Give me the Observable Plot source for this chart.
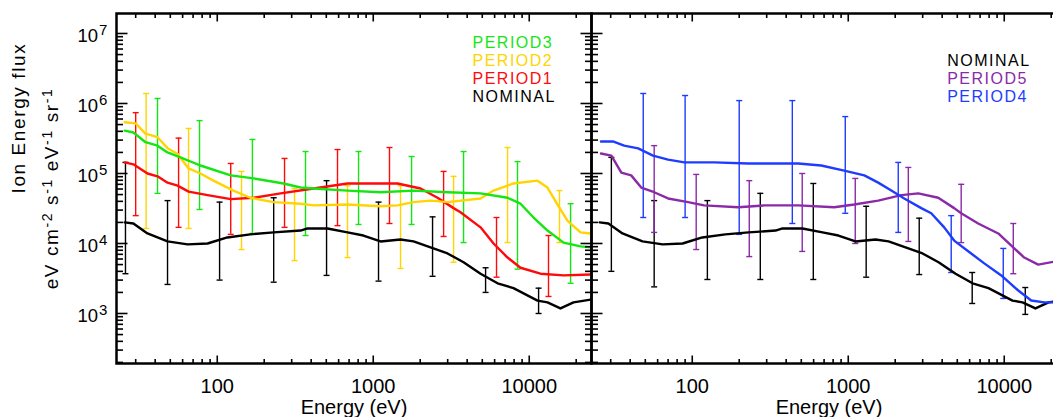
<!DOCTYPE html>
<html><head><meta charset="utf-8">
<script src="https://cdn.jsdelivr.net/npm/d3@7"></script>
<script src="https://cdn.jsdelivr.net/npm/@observablehq/plot@0.6"></script>
<style>
html,body{margin:0;padding:0;background:#fff;}
#chart{position:relative;width:1053px;height:417px;overflow:hidden;background:#fff;}
#chart svg{position:absolute;top:0;}
</style></head><body><div id="chart"></div>
<script>
// ---------- data (energy in eV, flux in eV cm^-2 s^-1 eV^-1 sr^-1) ----------
const nominalE = [25.5, 29, 35.7, 48, 64.5, 86.7, 116, 163, 230, 342, 379, 509, 684, 865, 1113, 1496, 1812, 2330, 2994, 3793, 4875, 6266, 7925, 11300, 13090, 15850, 19230, 24720];
const nominalF = [2.0e4, 1.93e4, 1.39e4, 1.07e4, 9.7e3, 1.0e4, 1.22e4, 1.35e4, 1.44e4, 1.53e4, 1.64e4, 1.64e4, 1.44e4, 1.3e4, 1.07e4, 1.14e4, 1.07e4, 8.8e3, 7.2e3, 5.4e3, 3.7e3, 2.7e3, 2.3e3, 1.53e3, 1.44e3, 1.18e3, 1.44e3, 1.58e3];

const period1E = [25.5, 29, 35.7, 41.4, 48, 55.7, 65.5, 86.7, 122, 171, 255, 414, 684, 865, 1432, 2011, 2583, 3273, 3624, 4875, 5905, 7260, 8790, 11810, 16600, 24720];
const period1F = [1.44e5, 1.35e5, 1.0e5, 9.1e4, 7.4e4, 6.7e4, 5.5e4, 4.9e4, 4.3e4, 4.5e4, 5.2e4, 6.1e4, 7.2e4, 7.2e4, 7.2e4, 6.1e4, 4.5e4, 3.2e4, 2.8e4, 1.7e4, 1.0e4, 6.3e3, 4.5e3, 3.7e3, 3.5e3, 3.6e3];

const period2E = [25.5, 30, 34.7, 41.4, 48, 55.7, 65.5, 78, 94.6, 127, 163, 230, 342, 414, 684, 1113, 1432, 1812, 2330, 2994, 4875, 5905, 7925, 11300, 13090, 15180, 17620, 21330, 24720];
const period2F = [5.4e5, 5.2e5, 3.7e5, 3.3e5, 2.3e5, 1.9e5, 1.18e5, 1.0e5, 7.9e4, 5.7e4, 4.5e4, 3.9e4, 3.7e4, 3.5e4, 3.6e4, 3.4e4, 3.5e4, 3.9e4, 4.1e4, 3.9e4, 4.4e4, 5.7e4, 7.2e4, 7.9e4, 6.3e4, 3.6e4, 2.1e4, 1.44e4, 1.39e4];

const period3E = [25.5, 29, 34.7, 41.4, 48, 58, 78, 122, 171, 266, 342, 414, 684, 1113, 1812, 2994, 4875, 7260, 8790, 10660, 13090, 16600, 21330, 24720];
const period3F = [4.1e5, 3.85e5, 2.8e5, 2.5e5, 2.0e5, 1.7e5, 1.3e5, 9.4e4, 8.5e4, 7.2e4, 6.3e4, 6.1e4, 5.7e4, 5.4e4, 5.7e4, 5.4e4, 5.2e4, 4.5e4, 3.7e4, 2.35e4, 1.53e4, 1.03e4, 9.1e3, 8.8e3];

const period4E = [26, 31, 36.6, 45, 56, 70, 89, 138, 229, 372, 478, 671, 942, 1268, 1556, 1888, 2286, 2938, 3404, 4122, 4775, 6138, 7447, 9571, 12300, 14900, 18030, 20940, 24700];
const period4F = [2.87e5, 2.87e5, 2.5e5, 2.28e5, 1.8e5, 1.58e5, 1.44e5, 1.44e5, 1.39e5, 1.39e5, 1.39e5, 1.3e5, 1.1e5, 9.4e4, 7.4e4, 5.7e4, 4.4e4, 3.2e4, 2.7e4, 1.7e4, 1.1e4, 7.2e3, 5.2e3, 3.5e3, 2.13e3, 1.53e3, 1.44e3, 1.44e3, 1.5e3];

const period5E = [26, 30.3, 35.1, 40.6, 47.1, 57, 70, 94, 119, 197, 290, 478, 813, 1092, 1556, 2188, 2812, 3776, 4775, 5297, 6808, 9156, 11600, 13430, 16520, 20940, 24700];
const period5F = [1.93e5, 1.8e5, 1.03e5, 9.4e4, 6.3e4, 5.4e4, 4.4e4, 3.9e4, 3.5e4, 3.3e4, 3.5e4, 3.5e4, 3.3e4, 3.6e4, 4.1e4, 4.9e4, 5.2e4, 4.5e4, 3.2e4, 2.7e4, 1.93e4, 1.39e4, 8.5e3, 6.3e3, 5.0e3, 5.5e3, 5.8e3];

// error bars: energy, low, high
const barNomLeftE  = [25.8, 48, 103.5, 230, 502, 1081, 2400, 5250, 11480];
const barNomLeftLo = [3.7e3, 2.6e3, 3.0e3, 2.8e3, 3.5e3, 2.9e3, 3.4e3, 2.0e3, 1.0e3];
const barNomLeftHi = [1.44e5, 4.1e4, 3.9e4, 4.5e4, 7.9e4, 3.9e4, 2.4e4, 4.5e3, 2.3e3];

const barP1E  = [30, 56.5, 122, 270, 590, 1271, 2825, 6170, 13290];
const barP1Lo = [2.5e4, 1.7e4, 1.35e4, 1.7e4, 1.8e4, 1.93e4, 1.26e4, 3.3e3, 1.75e3];
const barP1Hi = [7.4e5, 3.2e5, 1.39e5, 1.64e5, 2.2e5, 2.35e5, 1.07e5, 2.35e4, 1.3e4];

const barP2E  = [35, 65.5, 143, 313, 684, 1496, 3273, 7260, 15630];
const barP2Lo = [1.64e4, 1.64e4, 8.2e3, 5.7e3, 6.3e3, 4.4e3, 5.4e3, 1.03e4, 1.03e4];
const barP2Hi = [1.39e6, 4.4e5, 1.07e5, 6.1e4, 6.7e4, 6.7e4, 9.1e4, 2.35e5, 5.7e4];

const barP3E  = [41.4, 77, 168, 368, 805, 1761, 3793, 8410, 18410];
const barP3Lo = [5.2e4, 3.06e4, 1.39e4, 1.3e4, 1.87e4, 1.87e4, 1.03e4, 4.3e3, 2.7e3];
const barP3Hi = [1.18e6, 5.7e5, 3.06e5, 2.06e5, 2.06e5, 1.75e5, 2.06e5, 1.48e5, 3.7e4];

const barNomRightE  = [30.3, 57, 125, 273, 597, 1303, 2851, 6232, 13640];
const barNomRightLo = [4.0e3, 2.4e3, 3.06e3, 3.06e3, 3.06e3, 3.3e3, 3.6e3, 1.39e3, 970];
const barNomRightHi = [1.7e5, 4.1e4, 4.1e4, 5.2e4, 7.2e4, 3.4e4, 2.3e4, 3.85e3, 2.35e3];

const barP4E  = [48.5, 90, 200, 438, 957, 2092, 4571, 9857];
const barP4Lo = [2.35e4, 2.35e4, 1.35e4, 1.93e4, 2.7e4, 1.44e4, 3.85e3, 1.64e3];
const barP4Hi = [1.39e6, 1.3e6, 1.1e6, 1.1e6, 6.5e5, 1.44e5, 2.5e4, 8.5e3];

const barP5E  = [57, 106, 232, 507, 1109, 2427, 5297, 11430];
const barP5Lo = [1.44e4, 8.2e3, 6.5e3, 7.7e3, 1.0e4, 1.07e4, 1.03e4, 3.7e3];
const barP5Hi = [2.5e5, 9.7e4, 7.9e4, 1.0e5, 8.5e4, 1.22e5, 7.0e4, 1.93e4];

// axes
const xDomain = [22.6, 25070];
const yDomain = [193, 1.93e7];
const xMajor = [100, 1000, 10000];
const xMajorLabels = ["100", "1000", "10000"];
const xMinor = [30, 40, 50, 60, 70, 80, 90, 200, 300, 400, 500, 600, 700, 800, 900, 2000, 3000, 4000, 5000, 6000, 7000, 8000, 9000, 20000];
const yMajor = [1e3, 1e4, 1e5, 1e6, 1e7];
const yMajorBase = "10";
const yMajorExp = ["3", "4", "5", "6", "7"];
const yMinor = [200, 300, 400, 500, 600, 700, 800, 900, 2e3, 3e3, 4e3, 5e3, 6e3, 7e3, 8e3, 9e3, 2e4, 3e4, 4e4, 5e4, 6e4, 7e4, 8e4, 9e4, 2e5, 3e5, 4e5, 5e5, 6e5, 7e5, 8e5, 9e5, 2e6, 3e6, 4e6, 5e6, 6e6, 7e6, 8e6, 9e6];
const xTitle = "Energy (eV)";
const yTitle1 = "Ion Energy flux";
const yTitle2Parts = [["eV cm", "-2"], [" s", "-1"], [" eV", "-1"], [" sr", "-1"]];
const leftLegend = ["PERIOD3", "PERIOD2", "PERIOD1", "NOMINAL"];
const rightLegend = ["NOMINAL", "PERIOD5", "PERIOD4"];

// ---------- styling ----------
const C = {NOMINAL: "#000000", PERIOD1: "#ff0a0a", PERIOD2: "#ffd400", PERIOD3: "#14e614", PERIOD4: "#1e3cff", PERIOD5: "#8a2aa8"};
const FONT = "'Liberation Sans', Arial, sans-serif";

const rows = (E, F) => E.map((e, i) => ({e, f: F[i]}));
const bars = (E, L, H) => E.map((e, i) => ({e, lo: L[i], hi: H[i]}));
const seg = (x1, y1, x2, y2) => ({draw(ctx) { ctx.moveTo(x1, y1); ctx.lineTo(x2, y2); }});
const cap = seg(-3, 0, 3, 0);

function errMarks(data, color) {
  return [
    Plot.ruleX(data, {x: "e", y1: "lo", y2: "hi", stroke: color, strokeWidth: 1.4}),
    Plot.dot(data, {x: "e", y: "lo", symbol: cap, stroke: color, strokeWidth: 1.4, fill: "none"}),
    Plot.dot(data, {x: "e", y: "hi", symbol: cap, stroke: color, strokeWidth: 1.4, fill: "none"})
  ];
}
function lineMark(data, color) {
  return Plot.line(data, {x: "e", y: "f", stroke: color, strokeWidth: 2.4, strokeLinejoin: "round"});
}
function tickMarks(leftTicks, rightTicks) {
  const m = [
    Plot.dot(xMajor, {x: d => d, frameAnchor: "bottom", symbol: seg(0, 0, 0, -8), stroke: "black", strokeWidth: 1.6, fill: "none"}),
    Plot.dot(xMinor, {x: d => d, frameAnchor: "bottom", symbol: seg(0, 0, 0, -4.5), stroke: "black", strokeWidth: 1.6, fill: "none"}),
    Plot.dot(xMajor, {x: d => d, frameAnchor: "top", symbol: seg(0, 0, 0, 8), stroke: "black", strokeWidth: 1.6, fill: "none"}),
    Plot.dot(xMinor, {x: d => d, frameAnchor: "top", symbol: seg(0, 0, 0, 4.5), stroke: "black", strokeWidth: 1.6, fill: "none"}),
    Plot.text(xMajor, {x: d => d, text: (d, i) => xMajorLabels[i], frameAnchor: "bottom", lineAnchor: "bottom", dy: 29, fontSize: 20, fill: "black"}),
    Plot.text([xTitle], {text: d => d, frameAnchor: "bottom", lineAnchor: "bottom", dy: 50, fontSize: 20, fill: "black"})
  ];
  if (leftTicks) {
    m.push(Plot.dot(yMajor, {y: d => d, frameAnchor: "left", symbol: seg(0, 0, 11, 0), stroke: "black", strokeWidth: 1.6, fill: "none"}));
    m.push(Plot.dot(yMinor, {y: d => d, frameAnchor: "left", symbol: seg(0, 0, 6.5, 0), stroke: "black", strokeWidth: 1.6, fill: "none"}));
  }
  if (rightTicks) {
    m.push(Plot.dot(yMajor, {y: d => d, frameAnchor: "right", symbol: seg(0, 0, -11, 0), stroke: "black", strokeWidth: 1.6, fill: "none"}));
    m.push(Plot.dot(yMinor, {y: d => d, frameAnchor: "right", symbol: seg(0, 0, -6.5, 0), stroke: "black", strokeWidth: 1.6, fill: "none"}));
  }
  return m;
}
function legendMarks(labels, anchor, dx, dy0) {
  return labels.map((lab, i) => Plot.text([lab], {
    text: d => d, frameAnchor: anchor, textAnchor: "start", lineAnchor: "bottom",
    dx, dy: dy0 + i * 18, fill: C[lab], fontSize: 16
  }));
}
const common = {
  height: 417, marginTop: 13, marginBottom: 54,
  x: {type: "log", domain: xDomain, axis: null},
  y: {type: "log", domain: yDomain, axis: null},
  style: {background: "transparent", overflow: "visible", fontFamily: FONT}
};

const yTitle2 = yTitle2Parts.map(p => p[0] + p[1]).join("");

const left = Plot.plot({
  ...common, width: 600, marginLeft: 116, marginRight: 9,
  marks: [
    ...errMarks(bars(barNomLeftE, barNomLeftLo, barNomLeftHi), C.NOMINAL),
    ...errMarks(bars(barP1E, barP1Lo, barP1Hi), C.PERIOD1),
    ...errMarks(bars(barP2E, barP2Lo, barP2Hi), C.PERIOD2),
    ...errMarks(bars(barP3E, barP3Lo, barP3Hi), C.PERIOD3),
    lineMark(rows(nominalE, nominalF), C.NOMINAL),
    lineMark(rows(period1E, period1F), C.PERIOD1),
    lineMark(rows(period2E, period2F), C.PERIOD2),
    lineMark(rows(period3E, period3F), C.PERIOD3),
    ...tickMarks(true, true),
    Plot.text(yMajor, {y: d => d, text: () => yMajorBase, frameAnchor: "left", textAnchor: "end", dx: -18.5, dy: 2.5, fontSize: 18.5, fill: "black"}),
    Plot.text(yMajor, {y: d => d, text: (d, i) => yMajorExp[i], frameAnchor: "left", textAnchor: "start", dx: -17.5, dy: -3, fontSize: 15, fill: "black"}),
    Plot.text([yTitle1], {text: d => d, frameAnchor: "left", rotate: -90, dx: -92, dy: 5, lineAnchor: "bottom", fontSize: 19, fill: "black"}),
    Plot.text([yTitle2], {text: d => d, frameAnchor: "left", rotate: -90, dx: -59, lineAnchor: "bottom", fontSize: 19, fill: "black"}),
    ...legendMarks(leftLegend, "top-right", -119, 34.8),
    Plot.frame({stroke: "black", strokeWidth: 2.5})
  ]
});

const right = Plot.plot({
  ...common, width: 495, marginLeft: 10, marginRight: 10,
  marks: [
    ...errMarks(bars(barNomRightE, barNomRightLo, barNomRightHi), C.NOMINAL),
    ...errMarks(bars(barP4E, barP4Lo, barP4Hi), C.PERIOD4),
    ...errMarks(bars(barP5E, barP5Lo, barP5Hi), C.PERIOD5),
    lineMark(rows(nominalE, nominalF), C.NOMINAL),
    lineMark(rows(period5E, period5F), C.PERIOD5),
    lineMark(rows(period4E, period4F), C.PERIOD4),
    ...tickMarks(true, false),
    ...legendMarks(rightLegend, "top-left", 355.7, 52),
    Plot.frame({stroke: "black", strokeWidth: 2.5})
  ]
});

left.style.left = "0px";
right.style.left = "581px";
const chart = document.getElementById("chart");
chart.appendChild(left);
chart.appendChild(right);

// letter spacing for the legend entries and the y-axis titles
const legendSet = new Set([...leftLegend, ...rightLegend]);
d3.selectAll("#chart text").filter(function () { return legendSet.has(this.textContent); })
  .attr("letter-spacing", "1.5px");
d3.select(left).selectAll("text").filter(function () { return this.textContent === yTitle1; })
  .attr("letter-spacing", "1.6px");

// superscripts in the second y-axis title line, centred manually along the rotated baseline
d3.select(left).selectAll("text").filter(function () { return this.textContent === yTitle2; }).each(function () {
  const t = d3.select(this);
  t.text(null).attr("text-anchor", "start").attr("letter-spacing", "1.6px");
  yTitle2Parts.forEach(([base, sup], i) => {
    t.append("tspan").attr("dy", i === 0 ? 0 : 6).text(base);
    t.append("tspan").attr("dy", -6).attr("font-size", 14).text(sup);
  });
  const len = this.getComputedTextLength();
  t.select("tspan").attr("x", -len / 2);
});
</script>
</body></html>
